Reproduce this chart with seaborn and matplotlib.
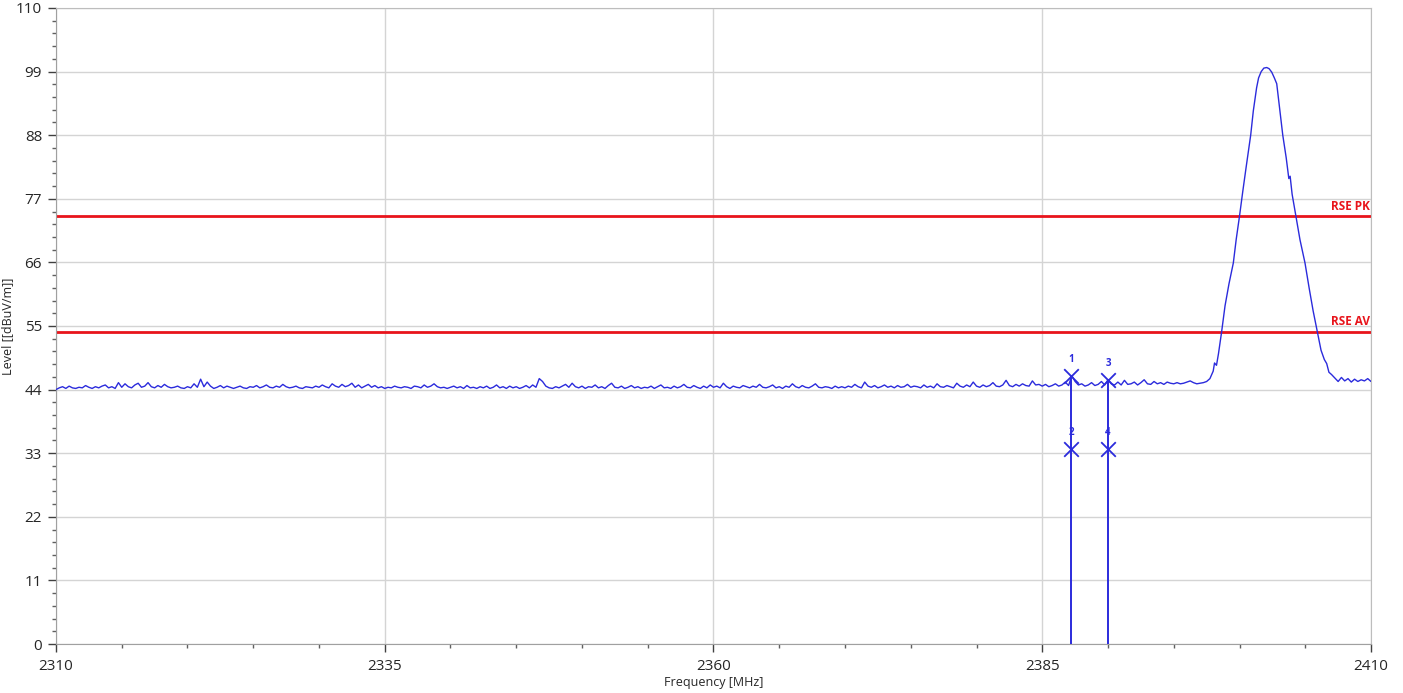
import numpy as np
import pandas as pd
import matplotlib.pyplot as plt
from matplotlib.ticker import MultipleLocator
import seaborn as sns

# noise floor, read every 0.25 MHz from 2310 to 2397.25 (rows of 5 MHz)
noise_level = [
    44.0, 44.3, 44.5, 44.2, 44.6, 44.3, 44.2, 44.4, 44.3, 44.7, 44.4, 44.2, 44.5, 44.3, 44.6, 44.8, 44.3, 44.5, 44.2, 45.2,
    44.4, 45.0, 44.5, 44.3, 44.8, 45.1, 44.4, 44.6, 45.2, 44.5, 44.3, 44.7, 44.4, 44.9, 44.5, 44.3, 44.4, 44.6, 44.3, 44.2,
    44.5, 44.3, 45.0, 44.4, 45.8, 44.5, 45.3, 44.6, 44.2, 44.4, 44.7, 44.3, 44.6, 44.4, 44.2, 44.4, 44.6, 44.3, 44.2, 44.5,
    44.4, 44.7, 44.3, 44.5, 44.8, 44.4, 44.3, 44.6, 44.4, 44.9, 44.5, 44.3, 44.4, 44.6, 44.3, 44.2, 44.5, 44.4, 44.3, 44.6,
    44.4, 44.8, 44.5, 44.3, 45.0, 44.6, 44.4, 44.9, 44.5, 44.7, 45.1, 44.4, 44.8, 44.3, 44.6, 44.9, 44.4, 44.7, 44.3, 44.5,
    44.2, 44.4, 44.3, 44.6, 44.4, 44.3, 44.5, 44.4, 44.2, 44.6, 44.5, 44.3, 44.8, 44.4, 44.6, 45.0, 44.5, 44.3, 44.4, 44.2,
    44.4, 44.6, 44.3, 44.5, 44.2, 44.7, 44.3, 44.4, 44.2, 44.5, 44.3, 44.6, 44.2, 44.4, 44.8, 44.3, 44.5, 44.2, 44.6, 44.3,
    44.5, 44.2, 44.4, 44.7, 44.3, 44.8, 44.4, 45.9, 45.4, 44.6, 44.3, 44.2, 44.5, 44.3, 44.6, 44.9, 44.4, 45.1, 44.5, 44.3,
    44.6, 44.2, 44.5, 44.4, 44.8, 44.3, 44.5, 44.2, 44.7, 45.1, 44.4, 44.3, 44.6, 44.2, 44.4, 44.7, 44.3, 44.5, 44.2, 44.4,
    44.3, 44.6, 44.2, 44.5, 44.8, 44.3, 44.4, 44.2, 44.6, 44.3, 44.5, 44.9, 44.4, 44.3, 44.7, 44.4, 44.2, 44.6, 44.3, 44.8,
    44.4, 44.6, 44.3, 45.1, 44.5, 44.2, 44.6, 44.4, 44.3, 44.7, 44.5, 44.3, 44.6, 44.4, 44.9, 44.4, 44.3, 44.5, 44.8, 44.3,
    44.5, 44.2, 44.6, 44.4, 45.0, 44.5, 44.3, 44.7, 44.4, 44.3, 44.6, 45.0, 44.4, 44.3, 44.5, 44.4, 44.2, 44.6, 44.3, 44.5,
    44.3, 44.6, 44.4, 44.9, 44.5, 44.3, 45.3, 44.6, 44.4, 44.7, 44.3, 44.5, 44.8, 44.4, 44.6, 44.3, 44.7, 44.4, 44.5, 44.9,
    44.4, 44.6, 44.5, 44.3, 44.8, 44.4, 44.6, 44.3, 45.0, 44.5, 44.4, 44.7, 44.5, 44.3, 45.1, 44.6, 44.4, 44.8, 44.5, 45.3,
    44.6, 44.4, 44.8, 44.5, 44.7, 45.2, 44.6, 44.5, 44.8, 45.6, 44.7, 44.5, 44.9, 44.6, 45.0, 44.7, 44.6, 45.5, 44.8, 44.9,
    44.6, 44.9, 44.5, 44.7, 45.0, 44.6, 44.8, 45.3, 44.7, 46.4, 45.4, 44.8, 45.0, 44.6, 44.8, 45.2, 44.7, 44.9, 45.4, 44.8,
    45.7, 45.0, 44.8, 45.3, 44.8, 45.6, 44.9, 45.0, 45.3, 44.8, 45.2, 45.7, 45.0, 44.9, 45.4, 45.0, 45.2, 44.9, 45.3, 45.1,
    45.0, 45.2, 45.0, 45.1, 45.3, 45.5, 45.2, 45.0, 45.1, 45.2,
]
noise_freq = np.linspace(2310, 2310 + 0.25 * (len(noise_level) - 1), len(noise_level))

# emission peak, read point by point
peak_freq = [2397.5, 2397.75, 2398.0, 2398.1, 2398.25, 2398.4, 2398.64, 2398.9, 2399.2, 2399.53,
             2399.75, 2400.0, 2400.25, 2400.5, 2400.85, 2401.05, 2401.3, 2401.45, 2401.65, 2401.85,
             2402.07, 2402.25, 2402.45, 2402.65, 2402.83, 2403.0, 2403.29, 2403.55, 2403.75, 2403.85,
             2404.0, 2404.3, 2404.6, 2404.98, 2405.3, 2405.6, 2405.92, 2406.2, 2406.45, 2406.63,
             2406.8, 2407.0, 2407.25, 2407.5, 2407.75, 2408.0, 2408.25, 2408.5, 2408.75, 2409.0,
             2409.25, 2409.5, 2409.75, 2410.0]
peak_level = [45.4, 45.9, 47.2, 48.6, 48.2, 50.2, 54.0, 58.5, 62.3, 65.9,
              70.0, 74.0, 78.3, 82.4, 88.0, 92.2, 96.2, 97.9, 99.0, 99.6,
              99.7, 99.5, 98.9, 97.9, 96.9, 93.6, 88.0, 84.1, 80.5, 80.9,
              77.8, 73.9, 69.9, 65.9, 61.5, 57.6, 54.0, 50.8, 49.2, 48.5,
              47.0, 46.6, 46.0, 45.4, 46.1, 45.5, 45.9, 45.3, 45.8, 45.4,
              45.7, 45.5, 45.9, 45.4]

limit_names = ['RSE PK', 'RSE AV']
limit_levels = [74, 54]

marker_ids = ['1', '2', '3', '4']
marker_freq = [2387.2, 2387.2, 2390.0, 2390.0]
marker_level = [46.4, 33.7, 45.7, 33.7]

x_ticks = [2310, 2335, 2360, 2385, 2410]

df = pd.DataFrame({'freq': np.concatenate([noise_freq, peak_freq]),
                   'level': np.concatenate([noise_level, peak_level])})

sns.set_style('white')
plt.rcParams['font.family'] = ['Open Sans', 'DejaVu Sans']

fig = plt.figure(figsize=(14.03, 6.93), dpi=100)
ax = fig.add_axes([0.0399, 0.0707, 0.9373, 0.9178])

blue = '#2b2bdc'
sns.lineplot(data=df, x='freq', y='level', color=blue, lw=1.0, ax=ax, zorder=3,
             estimator=None, sort=False)

# markers with the drop lines
ax.vlines([marker_freq[0], marker_freq[2]], 0, [marker_level[0], marker_level[2]],
          color=blue, lw=1.4, zorder=3)
sns.scatterplot(x=marker_freq, y=marker_level, marker='x', s=110, color=blue,
                linewidth=1.3, ax=ax, zorder=4)
for m, fx, fy in zip(marker_ids, marker_freq, marker_level):
    ax.annotate(m, (fx, fy), xytext=(0, 8), textcoords='offset points', ha='center',
                va='bottom', fontsize=7, color=blue, fontweight='bold')

for name, lvl in zip(limit_names, limit_levels):
    ax.axhline(lvl, color='#e8141b', lw=2, zorder=2)
    ax.text(2409.9, lvl + 0.6, name, color='#e8141b', fontsize=8.5, fontweight='bold',
            ha='right', va='bottom')

ax.set_xlim(2310, 2410)
ax.set_ylim(0, 110)
ax.set_xticks(x_ticks)
ax.xaxis.set_minor_locator(MultipleLocator(5))
ax.yaxis.set_major_locator(MultipleLocator(11))
ax.yaxis.set_minor_locator(MultipleLocator(2.2))
ax.grid(True, which='major', color='#d4d4d4', lw=1)
ax.tick_params(which='major', direction='out', length=6, width=1, color='#404040',
               labelsize=11, pad=4, left=True, bottom=True)
ax.tick_params(which='minor', direction='out', length=3, width=1, color='#606060',
               left=True, bottom=True)
ax.tick_params(axis='x', which='major', pad=5)
for s in ax.spines.values():
    s.set_color('#bdbdbd')
ax.spines['left'].set_color('#a0a0a0')
ax.spines['bottom'].set_color('#a0a0a0')

ax.set_xlabel('Frequency [MHz]', fontsize=9)
ax.set_ylabel('Level [[dBuV/m]]', fontsize=9)
ax.xaxis.set_label_coords(0.5, -0.05)
ax.yaxis.set_label_coords(-0.032, 0.5)

fig.savefig('out.png', dpi=100)
